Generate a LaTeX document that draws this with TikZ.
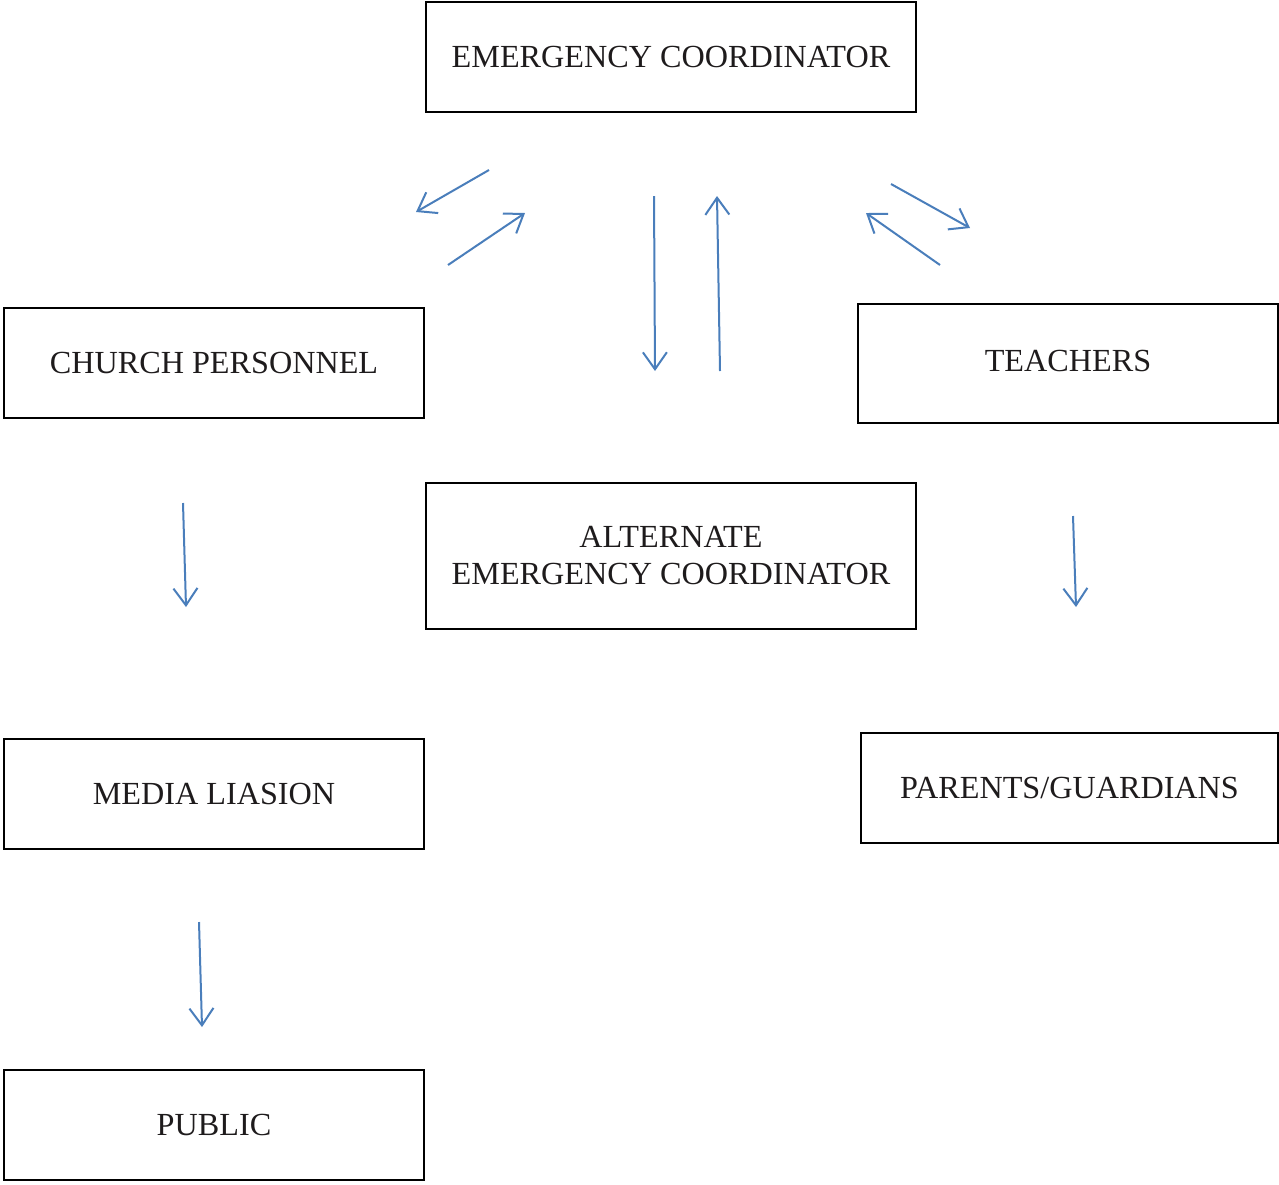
\documentclass[tikz,border=0pt]{standalone}
\usepackage{fontspec}
\setmainfont{Liberation Serif}
\usetikzlibrary{arrows.meta, positioning}
\definecolor{linkblue}{RGB}{74,126,187}
\definecolor{inkgray}{RGB}{30,27,28}

\begin{document}
\begin{tikzpicture}[
    x=1pt, y=-1pt,
    every node/.style={draw=black, line width=2pt, rectangle, inner sep=0pt, align=center, text=inkgray, font=\fontsize{32.2}{37}\selectfont},
    wide/.style={minimum width=490pt, minimum height=110pt},
    side/.style={minimum width=420pt, minimum height=110pt},
    arrow/.style={-{Straight Barb[length=17pt, width=24pt, line width=2pt]}, line width=2pt, draw=linkblue}
]
\useasboundingbox (0,0) rectangle (1279,1184);

\node[wide] (ec) at (671,57) {EMERGENCY COORDINATOR};
\node[side] (church) at (214,363) {CHURCH PERSONNEL};
\node[side, minimum height=119pt] (teach) at (1068,363.5) {\raisebox{5pt}{TEACHERS}};
\node[wide, minimum height=146pt] (alt) at (671,556) {ALTERNATE\\EMERGENCY COORDINATOR};
\node[side] (media) at (214,794) {MEDIA LIASION};
\node[side, minimum width=417pt] (parents) at (1069.5,788) {PARENTS/GUARDIANS};
\node[side] (public) at (214,1125) {PUBLIC};

% free-standing arrows
\coordinate (a1) at (489,170);  \coordinate (b1) at (416,212);
\coordinate (a2) at (448,265);  \coordinate (b2) at (525,213);
\coordinate (a3) at (654,196);  \coordinate (b3) at (655,371);
\coordinate (a4) at (720,371);  \coordinate (b4) at (717,196);
\coordinate (a5) at (891,184);  \coordinate (b5) at (970,228);
\coordinate (a6) at (940,265);  \coordinate (b6) at (866,213);
\coordinate (a7) at (183,503);  \coordinate (b7) at (186,607);
\coordinate (a8) at (1073,516); \coordinate (b8) at (1076,607);
\coordinate (a9) at (199,922);  \coordinate (b9) at (202,1027);

\foreach \i in {1,...,9}
    \draw[arrow] (a\i) -- (b\i);
\end{tikzpicture}
\end{document}
